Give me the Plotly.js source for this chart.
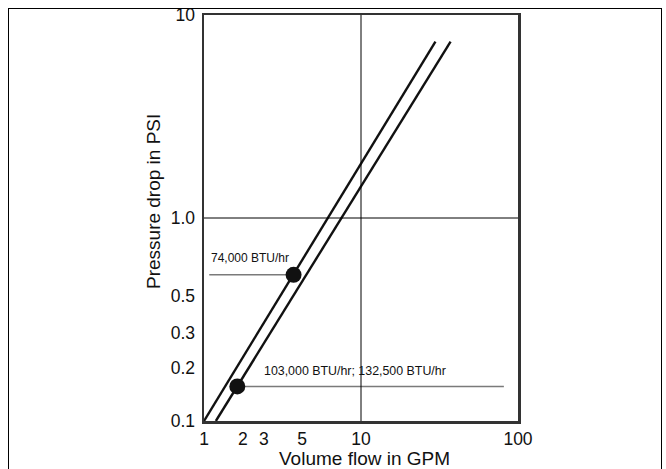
<!DOCTYPE html>
<html>
<head>
<meta charset="utf-8">
<script src="https://cdn.plot.ly/plotly-3.0.1.min.js"></script>
<style>
  html, body { margin: 0; padding: 0; background: #fff; overflow: hidden; }
  #wrap { position: relative; width: 666px; height: 469px; }
  #frame { position: absolute; left: 8px; top: 8px; width: 652px; height: 500px; border: 1.5px solid #000; pointer-events: none; }
  #chart { position: absolute; left: 0; top: 0; width: 666px; height: 469px; }
</style>
</head>
<body>
<div id="wrap">
  <div id="chart"></div>
  <div id="frame"></div>
</div>
<script>
// Characteristic lines (GPM vs PSI)
const flowLineA = [1.0, 29.8];
const dropLineA = [0.1, 7.4];
const flowLineB = [1.19, 37.2];
const dropLineB = [0.1, 7.4];

// Rated points
const pointFlow = [3.72, 1.63];
const pointDrop = [0.525, 0.148];
const pointLabels = ['74,000 BTU/hr', '103,000 BTU/hr; 132,500 BTU/hr'];

// Leader lines to the labels
const leaderAFlow = [1.08, 3.72];
const leaderADrop = [0.525, 0.525];
const leaderBFlow = [1.63, 81.3];
const leaderBDrop = [0.148, 0.148];

// Label anchor positions (data coords)
const labelFlow = [1.08, 2.35];
const labelDrop = [0.636, 0.177];

// Tick labels (placed where the reference prints them)
const xTickVals = [1, 1.77, 2.41, 4.21, 10, 100];
const xTickText = ['1', '2', '3', '5', '10', '100'];
const yTickVals = [0.1, 0.182, 0.271, 0.413, 1, 10];
const yTickText = ['0.1', '0.2', '0.3', '0.5', '1.0', '10'];

const FONT = 'Liberation Sans, Arial, Helvetica, sans-serif';

const traces = [
  { x: leaderAFlow, y: leaderADrop, mode: 'lines', line: { color: '#7a7a7a', width: 1.5 }, hoverinfo: 'skip' },
  { x: leaderBFlow, y: leaderBDrop, mode: 'lines', line: { color: '#7a7a7a', width: 1.5 }, hoverinfo: 'skip' },
  { x: flowLineA, y: dropLineA, mode: 'lines', line: { color: '#111', width: 2.4 } },
  { x: flowLineB, y: dropLineB, mode: 'lines', line: { color: '#111', width: 2.4 } },
  { x: pointFlow, y: pointDrop, mode: 'markers', marker: { color: '#111', size: 16 }, cliponaxis: false }
];

const annotations = pointLabels.map((t, i) => ({
  x: Math.log10(labelFlow[i]), y: Math.log10(labelDrop[i]), xref: 'x', yref: 'y',
  text: t, showarrow: false, xanchor: 'left', yanchor: 'middle',
  font: { family: FONT, size: i === 0 ? 12 : 12.4, color: '#111' }
}));
annotations.push({
  text: 'Volume flow in GPM', xref: 'paper', yref: 'paper',
  x: (364 - 204) / 314, y: -(458 - 421) / 406, xanchor: 'center', yanchor: 'middle',
  showarrow: false, font: { family: FONT, size: 19, color: '#111' }
});
annotations.push({
  text: 'Pressure drop in PSI', xref: 'paper', yref: 'paper', textangle: -90,
  x: -(204 - 153) / 314, y: (421 - 202) / 406, xanchor: 'center', yanchor: 'middle',
  showarrow: false, font: { family: FONT, size: 19, color: '#111' }
});

const layout = {
  width: 666, height: 469,
  margin: { l: 204, r: 148, t: 15, b: 48, pad: 0 },
  paper_bgcolor: '#fff', plot_bgcolor: '#fff',
  showlegend: false,
  font: { family: FONT, size: 17, color: '#111' },
  xaxis: {
    type: 'log', range: [0, 2], tickvals: xTickVals, ticktext: xTickText,
    showgrid: false, zeroline: false, showline: true, mirror: true,
    linecolor: '#333', linewidth: 2.5, ticks: '',
    tickfont: { family: FONT, size: 17.5, color: '#111' }
  },
  yaxis: {
    type: 'log', range: [-1, 1], tickvals: yTickVals, ticktext: yTickText,
    showgrid: false, zeroline: false, showline: true, mirror: true,
    linecolor: '#333', linewidth: 2.5, ticks: 'outside', ticklen: 3, tickcolor: 'rgba(0,0,0,0)',
    tickfont: { family: FONT, size: 17.5, color: '#111' }
  },
  shapes: [
    { type: 'line', xref: 'x', yref: 'paper', x0: 10, x1: 10, y0: 0, y1: 1, line: { color: '#000', width: 1 } },
    { type: 'line', xref: 'paper', yref: 'y', x0: 0, x1: 1, y0: 1, y1: 1, line: { color: '#000', width: 1 } }
  ],
  annotations: annotations
};

Plotly.newPlot('chart', traces, layout, { staticPlot: true, displayModeBar: false });
</script>
</body>
</html>
